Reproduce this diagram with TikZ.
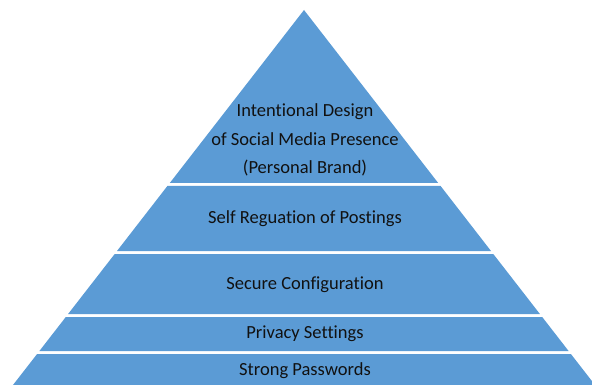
\documentclass[tikz,border=0pt]{standalone}
\usepackage{fontspec}
\setmainfont{Carlito}[Ligatures=CommonOff]
\definecolor{pyr}{HTML}{5B9BD5}
\definecolor{txt}{HTML}{111111}
\begin{document}
\begin{tikzpicture}[x=1pt,y=-1pt,
  layer/.style={fill=pyr,draw=none},
  lbl/.style={text=txt,font=\fontsize{18.5}{28.5}\selectfont,align=center,inner sep=0pt}]
\useasboundingbox (0,0) rectangle (592,385);
\clip (0,0) rectangle (592,385);
\fill[layer] (304,10) -- (438.2,183) -- (169.8,183) -- cycle;
\fill[layer] (167.4,186) -- (440.6,186) -- (491.0,251) -- (117.0,251) -- cycle;
\fill[layer] (114.7,254) -- (493.3,254) -- (539.9,314) -- (68.1,314) -- cycle;
\fill[layer] (65.8,317) -- (542.2,317) -- (568.6,351) -- (39.4,351) -- cycle;
\fill[layer] (37.1,354) -- (570.9,354) -- (595.8,386) -- (12.2,386) -- cycle;
\node[lbl] (l1) at (305,140) {Intentional Design\\of Social Media Presence\\(Personal Brand)};
\node[lbl] (l2) at (305,219) {Self Reguation of Postings};
\node[lbl] (l3) at (305,285) {Secure Configuration};
\node[lbl] (l4) at (305,334) {Privacy Settings};
\node[lbl] (l5) at (305,371) {Strong Passwords};
\end{tikzpicture}
\end{document}
